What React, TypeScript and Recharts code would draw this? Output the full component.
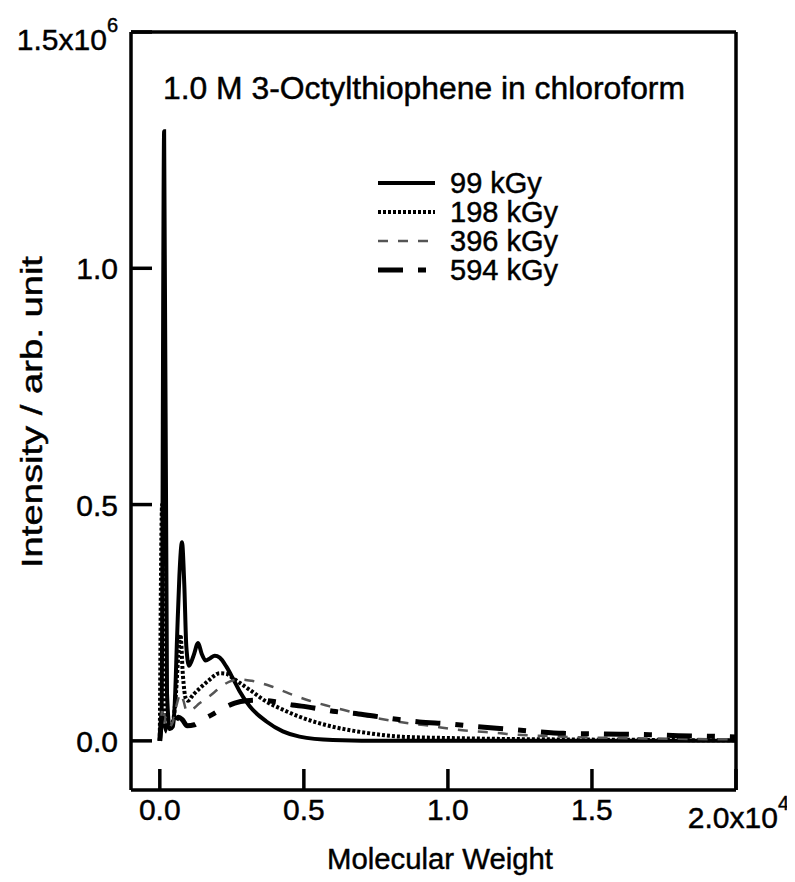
import React from "react";
import { LineChart, Line, XAxis, YAxis, Customized } from "recharts";

const FONT = "'Liberation Sans', Arial, Helvetica, sans-serif";

// Molecular weight (Da) and intensity (x10^6 arb. unit)
const mw99 = [0, 60, 150, 250, 350, 450, 520, 600, 680, 770, 850, 920, 1015, 1170, 1330, 1450, 1594, 1750, 1906, 2080, 2310, 2530, 2770, 3120, 3700, 4270, 4850, 6000, 8000, 20000];
const i99 = [0, 0.05, 1.29, 0.1, 0.025, 0.03, 0.08, 0.22, 0.35, 0.42, 0.33, 0.2, 0.159, 0.18, 0.207, 0.185, 0.17, 0.175, 0.18, 0.176, 0.157, 0.133, 0.105, 0.073, 0.041, 0.02, 0.009, 0.002, 0, 0];

const mw198 = [0, 80, 180, 300, 450, 560, 640, 717, 800, 900, 980, 1150, 1400, 1700, 2080, 2300, 2530, 3120, 3700, 4270, 4850, 6000, 7170, 8320, 10000, 12000, 14000, 17000, 20000];
const i198 = [0, 0.5, 0.06, 0.03, 0.04, 0.1, 0.18, 0.225, 0.14, 0.09, 0.085, 0.097, 0.112, 0.128, 0.143, 0.142, 0.133, 0.108, 0.083, 0.066, 0.051, 0.03, 0.017, 0.009, 0.006, 0.004, 0.003, 0.002, 0.001];

const mw396 = [0, 100, 250, 450, 600, 720, 820, 930, 1100, 1390, 1560, 1733, 2080, 2400, 2800, 3190, 3880, 4500, 5200, 5900, 6590, 7280, 8000, 8800, 9600, 10240, 10980, 11680, 12370, 13100, 13860, 15000, 17000, 20000];
const i396 = [0, 0.07, 0.025, 0.04, 0.08, 0.1, 0.085, 0.064, 0.066, 0.08, 0.087, 0.095, 0.112, 0.125, 0.13, 0.127, 0.115, 0.1, 0.085, 0.073, 0.062, 0.051, 0.043, 0.036, 0.03, 0.024, 0.02, 0.017, 0.013, 0.011, 0.009, 0.007, 0.005, 0.003];

const mw594 = [0, 100, 250, 450, 650, 780, 950, 1200, 1400, 1800, 2300, 2600, 3000, 3500, 4000, 4600, 5000, 5400, 6100, 6900, 7600, 8300, 9000, 10000, 11000, 12000, 13000, 14000, 15000, 16000, 17000, 18000, 19000, 20000];
const i594 = [0, 0.06, 0.02, 0.03, 0.05, 0.045, 0.032, 0.034, 0.042, 0.055, 0.072, 0.08, 0.085, 0.086, 0.083, 0.076, 0.073, 0.069, 0.062, 0.057, 0.051, 0.045, 0.04, 0.036, 0.03, 0.025, 0.02, 0.016, 0.015, 0.014, 0.013, 0.011, 0.01, 0.008];

const seriesNames = ["99 kGy", "198 kGy", "396 kGy", "594 kGy"];

const xTicks = [0, 5000, 10000, 15000, 20000];
const xTickLabels = ["0.0", "0.5", "1.0", "1.5", "2.0x10"];
const yTicks = [0, 0.5, 1.0, 1.5];
const yTickLabels = ["0.0", "0.5", "1.0", "1.5x10"];

const titleText = "1.0 M 3-Octylthiophene in chloroform";
const xTitle = "Molecular Weight";
const yTitle = "Intensity / arb. unit";

const toData = (mw: number[], it: number[]) => mw.map((m, i) => ({ mw: m, v: it[i] }));

const styles = [
  { stroke: "#000", width: 4, dash: undefined as string | undefined },
  { stroke: "#000", width: 4, dash: "3 2" },
  { stroke: "#555", width: 2.5, dash: "10 10" },
  { stroke: "#000", width: 5, dash: "25 15 8 15" },
];

const series = [
  { name: seriesNames[0], data: toData(mw99, i99), ...styles[0] },
  { name: seriesNames[1], data: toData(mw198, i198), ...styles[1] },
  { name: seriesNames[2], data: toData(mw396, i396), ...styles[2] },
  { name: seriesNames[3], data: toData(mw594, i594), ...styles[3] },
];

const TICK_LEN = 21;
const FS = 30;
const TXT = { fontFamily: FONT, fill: "#000", stroke: "#000", strokeWidth: 0.45 };

const XTick = (props: any) => {
  const { x, y, payload } = props;
  const idx = xTicks.indexOf(payload.value);
  const last = idx === xTicks.length - 1;
  return (
    <g>
      <line x1={x} y1={y} x2={x} y2={y - TICK_LEN} stroke="#000" strokeWidth={3.5} />
      {last ? (
        <text x={x + 53} y={y + 38} textAnchor="end" fontSize={FS} {...TXT}>
          {xTickLabels[idx]}
          <tspan dy={-18} fontSize={20}>4</tspan>
        </text>
      ) : (
        <text x={x} y={y + 30} textAnchor="middle" fontSize={FS} {...TXT}>
          {xTickLabels[idx]}
        </text>
      )}
    </g>
  );
};

const YTick = (props: any) => {
  const { x, y, payload } = props;
  const idx = yTicks.indexOf(payload.value);
  const last = idx === yTicks.length - 1;
  return (
    <g>
      <line x1={x} y1={y} x2={x + TICK_LEN} y2={y} stroke="#000" strokeWidth={3.5} />
      {last ? (
        <text x={x - 13} y={y + 18} textAnchor="end" fontSize={FS} {...TXT}>
          {yTickLabels[idx]}
          <tspan dy={-18} fontSize={20}>6</tspan>
        </text>
      ) : (
        <text x={x - 13} y={y + 11} textAnchor="end" fontSize={FS} {...TXT}>
          {yTickLabels[idx]}
        </text>
      )}
    </g>
  );
};

const Annotations = () => (
  <g>
    <text x={155} y={91} fontSize={31} textLength={522} lengthAdjust="spacingAndGlyphs" {...TXT}>{titleText}</text>
    {series.map((s, i) => {
      const ly = 175 + i * 29;
      return (
        <g key={s.name}>
          <line x1={370} x2={427} y1={ly} y2={ly} stroke={s.stroke} strokeWidth={s.width} strokeDasharray={s.dash} />
          <text x={442} y={ly + 10} fontSize={29} {...TXT}>{s.name}</text>
        </g>
      );
    })}
    <text x={432} y={861} fontSize={FS} textAnchor="middle" textLength={226} lengthAdjust="spacingAndGlyphs" {...TXT}>{xTitle}</text>
    <text transform="translate(34, 404) rotate(-90)" fontSize={FS} textAnchor="middle" textLength={312} lengthAdjust="spacingAndGlyphs" {...TXT}>{yTitle}</text>
  </g>
);

export default function App() {
  return (
    <LineChart width={787} height={874} margin={{ top: 0, right: 0, bottom: 0, left: 0 }}>
      <XAxis
        xAxisId={0}
        type="number"
        dataKey="mw"
        domain={[-1000, 20000]}
        ticks={xTicks}
        interval={0}
        allowDataOverflow
        height={92}
        tickSize={0}
        tickMargin={0}
        tickLine={false}
        tick={<XTick />}
        axisLine={{ stroke: "#000", strokeWidth: 3.5 }}
      />
      <XAxis
        xAxisId="top"
        orientation="top"
        type="number"
        dataKey="mw"
        domain={[-1000, 20000]}
        allowDataOverflow
        height={24}
        tick={false}
        tickLine={false}
        axisLine={{ stroke: "#000", strokeWidth: 3.5 }}
      />
      <YAxis
        yAxisId={0}
        type="number"
        domain={[-0.104, 1.5]}
        ticks={yTicks}
        interval={0}
        allowDataOverflow
        width={123}
        tickSize={0}
        tickMargin={0}
        tickLine={false}
        tick={<YTick />}
        axisLine={{ stroke: "#000", strokeWidth: 3.5 }}
      />
      <YAxis
        yAxisId="right"
        orientation="right"
        type="number"
        domain={[-0.104, 1.5]}
        allowDataOverflow
        width={59}
        tick={false}
        tickLine={false}
        axisLine={{ stroke: "#000", strokeWidth: 3.5 }}
      />
      {series.map((s) => (
        <Line
          key={s.name}
          data={s.data}
          dataKey="v"
          name={s.name}
          type="monotone"
          stroke={s.stroke}
          strokeWidth={s.width}
          strokeDasharray={s.dash}
          dot={false}
          activeDot={false}
          isAnimationActive={false}
        />
      ))}
      <Customized component={Annotations} />
    </LineChart>
  );
}
